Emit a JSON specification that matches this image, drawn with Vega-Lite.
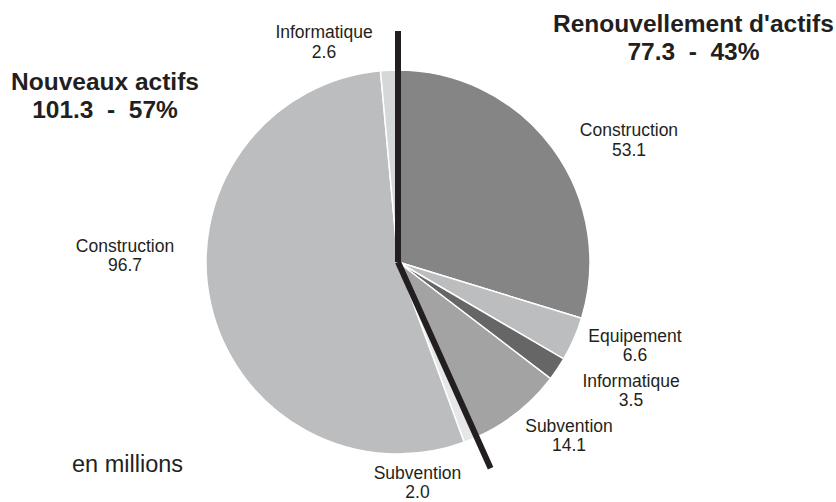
{
  "$schema": "https://vega.github.io/schema/vega-lite/v6.json",
  "width": 652,
  "height": 386,
  "autosize": {"type": "none"},
  "padding": {"left": 72, "top": 69, "right": 112, "bottom": 47},
  "background": "#ffffff",
  "title": {"text": "en millions", "orient": "bottom", "anchor": "start", "frame": "group", "offset": -30, "baseline": "alphabetic", "font": "Liberation Sans", "fontSize": 23.5, "fontWeight": "normal", "color": "#231f20"},
  "data": {"values": [
    {"order": 1, "grp": "Renouvellement d'actifs", "item": "Construction", "value": 53.1},
    {"order": 2, "grp": "Renouvellement d'actifs", "item": "Equipement", "value": 6.6},
    {"order": 3, "grp": "Renouvellement d'actifs", "item": "Informatique", "value": 3.5},
    {"order": 4, "grp": "Renouvellement d'actifs", "item": "Subvention", "value": 14.1},
    {"order": 5, "grp": "Nouveaux actifs", "item": "Subvention", "value": 2.0},
    {"order": 6, "grp": "Nouveaux actifs", "item": "Construction", "value": 96.7},
    {"order": 7, "grp": "Nouveaux actifs", "item": "Informatique", "value": 2.6}
  ]},
  "transform": [{"stack": "value", "groupby": [], "sort": [{"field": "order", "order": "ascending"}], "as": ["v0", "v1"]}],
  "layer": [
    {
      "mark": {"type": "arc", "radius": 192, "stroke": "#ffffff", "strokeWidth": 1.5},
      "encoding": {
        "theta": {"field": "v0", "type": "quantitative", "stack": null},
        "theta2": {"field": "v1"},
        "color": {"field": "order", "type": "nominal", "scale": {"domain": [1, 2, 3, 4, 5, 6, 7], "range": ["#858585", "#bcbdbf", "#666666", "#a3a3a3", "#e6e7e8", "#bcbdbf", "#d6d7d8"]}, "legend": null}
      }
    },
    {
      "transform": [{"filter": "datum.order == 7"}],
      "mark": {"type": "arc", "radius": 231, "filled": false, "stroke": "#231f20", "strokeWidth": 6},
      "encoding": {"theta": {"field": "v1", "type": "quantitative", "stack": null}, "theta2": {"field": "v1"}}
    },
    {
      "transform": [{"filter": "datum.order == 4"}],
      "mark": {"type": "arc", "radius": 226, "filled": false, "stroke": "#231f20", "strokeWidth": 6},
      "encoding": {"theta": {"field": "v1", "type": "quantitative", "stack": null}, "theta2": {"field": "v1"}}
    },
    {
      "transform": [{"filter": "datum.order == 1"}],
      "encoding": {"theta": {"field": "v0", "type": "quantitative", "stack": null}},
      "layer": [
        {"mark": {"type": "text", "radius": 263.1, "thetaOffset": 1.0715}, "encoding": {"text": {"field": "item"}}},
        {"mark": {"type": "text", "radius": 263.1, "thetaOffset": 1.0715, "dy": 19.5}, "encoding": {"text": {"field": "value", "type": "quantitative", "format": ".1f"}}}
      ]
    },
    {
      "transform": [{"filter": "datum.order == 2"}],
      "encoding": {"theta": {"field": "v0", "type": "quantitative", "stack": null}},
      "layer": [
        {"mark": {"type": "text", "radius": 250.0, "thetaOffset": 0.0272}, "encoding": {"text": {"field": "item"}}},
        {"mark": {"type": "text", "radius": 250.0, "thetaOffset": 0.0272, "dy": 19.5}, "encoding": {"text": {"field": "value", "type": "quantitative", "format": ".1f"}}}
      ]
    },
    {
      "transform": [{"filter": "datum.order == 3"}],
      "encoding": {"theta": {"field": "v0", "type": "quantitative", "stack": null}},
      "layer": [
        {"mark": {"type": "text", "radius": 264.3, "thetaOffset": -0.038}, "encoding": {"text": {"field": "item"}}},
        {"mark": {"type": "text", "radius": 264.3, "thetaOffset": -0.038, "dy": 19.5}, "encoding": {"text": {"field": "value", "type": "quantitative", "format": ".1f"}}}
      ]
    },
    {
      "transform": [{"filter": "datum.order == 4"}],
      "encoding": {"theta": {"field": "v0", "type": "quantitative", "stack": null}},
      "layer": [
        {"mark": {"type": "text", "radius": 240.9, "thetaOffset": 0.129}, "encoding": {"text": {"field": "item"}}},
        {"mark": {"type": "text", "radius": 240.9, "thetaOffset": 0.129, "dy": 19.5}, "encoding": {"text": {"field": "value", "type": "quantitative", "format": ".1f"}}}
      ]
    },
    {
      "transform": [{"filter": "datum.order == 5"}],
      "encoding": {"theta": {"field": "v0", "type": "quantitative", "stack": null}},
      "layer": [
        {"mark": {"type": "text", "radius": 217.9, "thetaOffset": 0.3327}, "encoding": {"text": {"field": "item"}}},
        {"mark": {"type": "text", "radius": 217.9, "thetaOffset": 0.3327, "dy": 19}, "encoding": {"text": {"field": "value", "type": "quantitative", "format": ".1f"}}}
      ]
    },
    {
      "transform": [{"filter": "datum.order == 6"}],
      "encoding": {"theta": {"field": "v0", "type": "quantitative", "stack": null}},
      "layer": [
        {"mark": {"type": "text", "radius": 273.2, "thetaOffset": 1.9604}, "encoding": {"text": {"field": "item"}}},
        {"mark": {"type": "text", "radius": 273.2, "thetaOffset": 1.9604, "dy": 19.5}, "encoding": {"text": {"field": "value", "type": "quantitative", "format": ".1f"}}}
      ]
    },
    {
      "transform": [{"filter": "datum.order == 7"}],
      "encoding": {"theta": {"field": "v0", "type": "quantitative", "stack": null}},
      "layer": [
        {"mark": {"type": "text", "radius": 235.6, "thetaOffset": -0.2279}, "encoding": {"text": {"field": "item"}}},
        {"mark": {"type": "text", "radius": 235.6, "thetaOffset": -0.2279, "dy": 19.5}, "encoding": {"text": {"field": "value", "type": "quantitative", "format": ".1f"}}}
      ]
    },
    {
      "data": {"values": [
        {"order": 1, "total": 77.3, "lines": ["Renouvellement d'actifs", "77.3\u00a0\u00a0-\u00a0\u00a043%"]},
        {"order": 2, "total": 101.3, "lines": ["Nouveaux actifs", "101.3\u00a0\u00a0-\u00a0\u00a057%"]}
      ]},
      "transform": [{"stack": "total", "groupby": [], "sort": [{"field": "order", "order": "ascending"}], "as": ["h0", "h1"]}],
      "encoding": {"theta": {"field": "h0", "type": "quantitative", "stack": null}, "text": {"field": "lines"}},
      "layer": [
        {"transform": [{"filter": "datum.order == 1"}], "mark": {"type": "text", "radius": 374.6, "thetaOffset": 0.9088, "fontWeight": "bold", "fontSize": 24.5, "lineHeight": 28}},
        {"transform": [{"filter": "datum.order == 2"}], "mark": {"type": "text", "radius": 339.6, "thetaOffset": 2.523, "fontWeight": "bold", "fontSize": 24.5, "lineHeight": 28}}
      ]
    }
  ],
  "config": {
    "view": {"stroke": null},
    "text": {"font": "Liberation Sans", "fontSize": 17.5, "color": "#231f20", "baseline": "alphabetic", "align": "center"}
  }
}
